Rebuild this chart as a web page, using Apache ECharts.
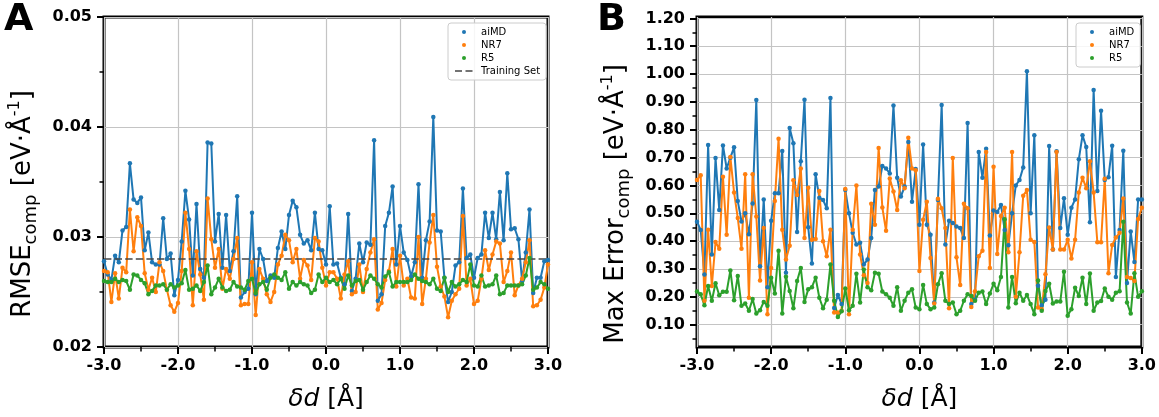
<!DOCTYPE html>
<html><head><meta charset="utf-8">
<script src="https://cdn.jsdelivr.net/npm/echarts@6/dist/echarts.min.js"></script>
<style>html,body{margin:0;padding:0;background:#fff}#c{width:1159px;height:417px}</style>
</head><body><div id="c"></div>
<script>
// x sampling grid (δd in Å), 121 points from -3.0 to 3.0
const deltaD = Array.from({length: 121}, (_, i) => +(-3 + 0.05 * i).toFixed(2));

// Panel A: RMSE_comp
const rmseAiMD = [0.0278,0.0266,0.0261,0.0283,0.0277,0.0306,0.0309,0.0367,0.0334,0.0331,0.0336,0.0288,0.0304,0.0277,0.0275,0.0275,0.0317,0.0280,0.0285,0.0247,
0.0261,0.0296,0.0342,0.0316,0.0265,0.0330,0.0271,0.0263,0.0386,0.0385,0.0296,0.0321,0.0272,0.0320,0.0269,0.0287,0.0337,0.0245,0.0250,0.0253,
0.0322,0.0248,0.0289,0.0280,0.0260,0.0265,0.0263,0.0290,0.0305,0.0289,0.0320,0.0333,0.0327,0.0302,0.0294,0.0297,0.0288,0.0322,0.0289,0.0288,
0.0275,0.0328,0.0275,0.0276,0.0263,0.0257,0.0321,0.0251,0.0262,0.0294,0.0277,0.0295,0.0293,0.0388,0.0242,0.0248,0.0310,0.0322,0.0346,0.0275,
0.0310,0.0286,0.0279,0.0264,0.0277,0.0348,0.0263,0.0297,0.0314,0.0409,0.0306,0.0305,0.0263,0.0241,0.0250,0.0274,0.0277,0.0344,0.0281,0.0284,
0.0263,0.0281,0.0284,0.0322,0.0299,0.0322,0.0298,0.0341,0.0297,0.0358,0.0307,0.0308,0.0298,0.0260,0.0286,0.0325,0.0249,0.0263,0.0263,0.0278,0.0279];
const rmseNR7 = [0.0269,0.0268,0.0241,0.0267,0.0244,0.0272,0.0268,0.0325,0.0287,0.0318,0.0310,0.0267,0.0252,0.0263,0.0250,0.0277,0.0269,0.0252,0.0238,0.0232,
0.0240,0.0269,0.0322,0.0289,0.0238,0.0287,0.0266,0.0243,0.0335,0.0298,0.0272,0.0289,0.0253,0.0271,0.0262,0.0280,0.0299,0.0238,0.0239,0.0239,
0.0277,0.0229,0.0271,0.0262,0.0248,0.0241,0.0250,0.0275,0.0283,0.0302,0.0297,0.0277,0.0289,0.0262,0.0279,0.0274,0.0261,0.0299,0.0296,0.0272,
0.0256,0.0268,0.0268,0.0262,0.0244,0.0266,0.0278,0.0248,0.0250,0.0275,0.0250,0.0271,0.0286,0.0298,0.0234,0.0240,0.0261,0.0269,0.0289,0.0255,
0.0283,0.0256,0.0262,0.0245,0.0244,0.0300,0.0239,0.0262,0.0295,0.0320,0.0273,0.0255,0.0246,0.0227,0.0242,0.0248,0.0253,0.0319,0.0256,0.0262,
0.0239,0.0242,0.0262,0.0288,0.0270,0.0284,0.0296,0.0294,0.0259,0.0269,0.0286,0.0247,0.0256,0.0262,0.0277,0.0297,0.0237,0.0238,0.0243,0.0254,0.0275];
const rmseR5 = [0.0260,0.0259,0.0259,0.0262,0.0259,0.0261,0.0260,0.0252,0.0266,0.0265,0.0261,0.0258,0.0248,0.0251,0.0256,0.0256,0.0257,0.0252,0.0257,0.0254,
0.0256,0.0258,0.0270,0.0252,0.0253,0.0256,0.0251,0.0259,0.0274,0.0248,0.0254,0.0262,0.0254,0.0251,0.0252,0.0259,0.0255,0.0254,0.0252,0.0260,
0.0262,0.0249,0.0257,0.0259,0.0252,0.0263,0.0266,0.0263,0.0261,0.0268,0.0253,0.0259,0.0256,0.0259,0.0257,0.0256,0.0249,0.0252,0.0266,0.0259,
0.0263,0.0259,0.0261,0.0257,0.0262,0.0253,0.0265,0.0256,0.0260,0.0261,0.0252,0.0259,0.0265,0.0262,0.0257,0.0254,0.0264,0.0268,0.0255,0.0259,
0.0259,0.0259,0.0259,0.0261,0.0266,0.0262,0.0260,0.0259,0.0257,0.0262,0.0253,0.0251,0.0263,0.0250,0.0259,0.0255,0.0257,0.0261,0.0259,0.0275,
0.0256,0.0255,0.0265,0.0255,0.0256,0.0257,0.0265,0.0248,0.0249,0.0256,0.0256,0.0256,0.0256,0.0257,0.0265,0.0281,0.0252,0.0254,0.0259,0.0257,0.0253];
const trainingSetRMSE = 0.028;

// Panel B: Max Error_comp
const maxAiMD = [0.47,0.44,0.28,0.745,0.352,0.699,0.512,0.744,0.661,0.70,0.737,0.544,0.471,0.50,0.425,0.535,0.907,0.31,0.55,0.235,
0.473,0.572,0.572,0.724,0.287,0.806,0.752,0.433,0.687,0.908,0.45,0.32,0.64,0.556,0.548,0.518,0.914,0.16,0.207,0.174,
0.584,0.50,0.43,0.388,0.394,0.316,0.334,0.411,0.584,0.596,0.67,0.661,0.643,0.887,0.628,0.56,0.596,0.756,0.542,0.659,
0.459,0.747,0.459,0.423,0.18,0.548,0.889,0.388,0.473,0.465,0.453,0.447,0.411,0.824,0.174,0.19,0.72,0.628,0.732,0.42,
0.51,0.505,0.53,0.44,0.385,0.50,0.60,0.62,0.665,1.01,0.50,0.78,0.24,0.17,0.19,0.742,0.37,0.723,0.447,0.554,
0.423,0.52,0.55,0.694,0.78,0.738,0.468,0.943,0.58,0.868,0.62,0.63,0.743,0.271,0.44,0.725,0.25,0.435,0.325,0.55,0.55];
const maxNR7 = [0.62,0.637,0.186,0.441,0.239,0.397,0.373,0.631,0.423,0.702,0.575,0.483,0.373,0.64,0.197,0.64,0.489,0.259,0.447,0.138,
0.304,0.544,0.768,0.441,0.334,0.384,0.619,0.566,0.661,0.411,0.592,0.405,0.408,0.58,0.40,0.346,0.441,0.144,0.144,0.15,
0.587,0.138,0.441,0.60,0.352,0.278,0.25,0.534,0.459,0.735,0.521,0.437,0.625,0.578,0.512,0.619,0.59,0.771,0.661,0.655,
0.293,0.477,0.542,0.34,0.176,0.552,0.518,0.447,0.159,0.699,0.342,0.243,0.534,0.518,0.164,0.22,0.346,0.366,0.72,0.304,
0.667,0.354,0.49,0.52,0.36,0.72,0.20,0.36,0.563,0.584,0.405,0.397,0.162,0.156,0.281,0.449,0.37,0.72,0.37,0.37,
0.405,0.338,0.405,0.575,0.628,0.59,0.687,0.575,0.396,0.396,0.624,0.285,0.386,0.413,0.43,0.553,0.271,0.268,0.257,0.48,0.52];
const maxR5 = [0.219,0.209,0.17,0.239,0.186,0.249,0.206,0.218,0.218,0.295,0.188,0.275,0.168,0.176,0.15,0.192,0.14,0.152,0.182,0.168,
0.269,0.212,0.366,0.14,0.272,0.221,0.159,0.257,0.304,0.182,0.227,0.235,0.269,0.197,0.159,0.19,0.316,0.186,0.128,0.148,
0.23,0.152,0.168,0.283,0.18,0.298,0.235,0.224,0.287,0.283,0.219,0.209,0.197,0.168,0.235,0.15,0.186,0.215,0.227,0.162,
0.156,0.243,0.174,0.156,0.162,0.245,0.285,0.186,0.174,0.18,0.138,0.15,0.186,0.209,0.203,0.186,0.215,0.219,0.174,0.212,
0.247,0.224,0.271,0.479,0.162,0.271,0.177,0.215,0.186,0.207,0.174,0.138,0.259,0.15,0.221,0.247,0.176,0.183,0.183,0.29,
0.132,0.156,0.233,0.203,0.269,0.174,0.284,0.15,0.18,0.185,0.23,0.20,0.19,0.215,0.22,0.47,0.18,0.14,0.285,0.20,0.22];

const yTicksB = [0.1,0.2,0.3,0.4,0.5,0.6,0.7,0.8,0.9,1.0,1.1,1.2];
const yMinorTicksB = [0.05,0.15,0.25,0.35,0.45,0.55,0.65,0.75,0.85,0.95,1.05,1.15];

const FONT = 'DejaVu Sans';
const C_BLUE = '#1f77b4', C_ORANGE = '#ff7f0e', C_GREEN = '#2ca02c';

function dataSeries(name, vals, color, g, yi) {
  return {
    name, type: 'line', xAxisIndex: g, yAxisIndex: yi,
    data: deltaD.map((x, i) => [x, vals[i]]),
    symbol: 'circle', symbolSize: 4.5, showAllSymbol: true,
    lineStyle: {width: 2, color}, itemStyle: {color},
    emphasis: {disabled: true}, silent: true, clip: true
  };
}

const tickLabel = {fontFamily: FONT, fontWeight: 'bold', fontSize: 16, color: '#000'};
const gridLine = {show: true, lineStyle: {color: '#c4c4c4', width: 1.2}};

function xAxis(g) {
  return {
    type: 'value', gridIndex: g, min: -3, max: 3, interval: 1,
    axisLine: {show: false, onZero: false},
    axisTick: {show: true, length: 7, lineStyle: {color: '#000', width: 2}},
    minorTick: {show: true, splitNumber: 2, length: 4.5, lineStyle: {color: '#000', width: 1.5}},
    axisLabel: Object.assign({margin: 11, formatter: v => v.toFixed(1)}, tickLabel),
    splitLine: gridLine,
    name: '{i|δd} {n|[Å]}', nameLocation: 'middle', nameGap: 40,
    nameTextStyle: {fontFamily: FONT, fontSize: 25, color: '#000',
      rich: {i: {fontFamily: FONT, fontSize: 25, fontStyle: 'italic', color: '#000'},
             n: {fontFamily: FONT, fontSize: 25, color: '#000'}}}
  };
}

const nameRich = {
  m: {fontFamily: FONT, fontSize: 26, color: '#000', verticalAlign: 'bottom', padding: [0,0,4,0]},
  s: {fontFamily: FONT, fontSize: 18, color: '#000', verticalAlign: 'bottom', padding: [0,0,0,0]},
  p: {fontFamily: FONT, fontSize: 16, color: '#000', verticalAlign: 'bottom', padding: [0,0,17,0]}
};

const legendCommon = {
  orient: 'vertical', itemWidth: 18, itemHeight: 5, itemGap: 3,
  padding: [4, 6, 4, 6], borderColor: '#cccccc', borderWidth: 1, borderRadius: 3,
  backgroundColor: 'rgba(255,255,255,0.85)',
  textStyle: {fontFamily: FONT, fontSize: 10, color: '#000', padding: [0,0,0,3]},
  lineStyle: {opacity: 0}, selectedMode: false
};

const option = {
  animation: false,
  backgroundColor: '#fff',
  grid: [
    {left: 104, right: 611, top: 17, bottom: 68, show: true, borderColor: '#000', borderWidth: 3, backgroundColor: 'transparent'},
    {left: 697, right: 17, top: 17, bottom: 68, show: true, borderColor: '#000', borderWidth: 3, backgroundColor: 'transparent'}
  ],
  xAxis: [xAxis(0), xAxis(1)],
  yAxis: [
    {type: 'value', gridIndex: 0, min: 0.02, max: 0.05, interval: 0.01,
     axisLine: {show: false, onZero: false},
     axisTick: {show: true, length: 7, lineStyle: {color: '#000', width: 2}},
     minorTick: {show: true, splitNumber: 2, length: 4.5, lineStyle: {color: '#000', width: 1.5}},
     axisLabel: Object.assign({margin: 12, formatter: v => v.toFixed(2)}, tickLabel),
     splitLine: gridLine,
     name: '{m|RMSE}{s|comp}{m| [eV·Å}{p|-1}{m|]}', nameLocation: 'middle', nameGap: 64, nameRotate: 90,
     nameTextStyle: {rich: nameRich, padding: [0, 44, 0, 0]}},
    {type: 'value', gridIndex: 1, min: 0.02, max: 1.205,
     axisLine: {show: false, onZero: false},
     axisTick: {show: true, length: 7, customValues: yTicksB, lineStyle: {color: '#000', width: 2}},
     axisLabel: Object.assign({margin: 12, customValues: yTicksB, formatter: v => v.toFixed(2)}, tickLabel),
     splitLine: gridLine,
     name: '{m|Max Error}{s|comp}{m| [eV·Å}{p|-1}{m|]}', nameLocation: 'middle', nameGap: 64, nameRotate: 90,
     nameTextStyle: {rich: nameRich, padding: [0, 44, 0, 0]}},
    {type: 'value', gridIndex: 1, min: 0.02, max: 1.205, position: 'left',
     axisLine: {show: false, onZero: false},
     axisTick: {show: true, length: 4.5, customValues: yMinorTicksB, lineStyle: {color: '#000', width: 1.5}},
     axisLabel: {show: false}, splitLine: {show: false}}
  ],
  legend: [
    Object.assign({left: 448, top: 23,
      data: [{name: 'aiMD'}, {name: 'NR7'}, {name: 'R5'},
             {name: 'Training Set', lineStyle: {opacity: 0.75, width: 2, type: [7, 3.5], color: '#444'}, itemStyle: {opacity: 0}}]}, legendCommon),
    Object.assign({left: 1076, top: 23,
      data: [{name: 'aiMD'}, {name: 'NR7'}, {name: 'R5'}]}, legendCommon)
  ],
  graphic: [
    {type: 'text', left: 4, top: 1, style: {text: 'A', fontFamily: FONT, fontWeight: 'bold', fontSize: 38, fill: '#000'}},
    {type: 'text', left: 597, top: 1, style: {text: 'B', fontFamily: FONT, fontWeight: 'bold', fontSize: 38, fill: '#000'}}
  ],
  series: [
    dataSeries('aiMD', rmseAiMD, C_BLUE, 0, 0),
    dataSeries('NR7', rmseNR7, C_ORANGE, 0, 0),
    dataSeries('R5', rmseR5, C_GREEN, 0, 0),
    {name: 'Training Set', type: 'line', xAxisIndex: 0, yAxisIndex: 0,
     data: [[-3, trainingSetRMSE], [3, trainingSetRMSE]], symbol: 'none',
     lineStyle: {color: '#444', opacity: 0.75, width: 2, type: [7.4, 3.2]}, itemStyle: {color: '#444'},
     emphasis: {disabled: true}, silent: true},
    dataSeries('aiMD', maxAiMD, C_BLUE, 1, 1),
    dataSeries('NR7', maxNR7, C_ORANGE, 1, 1),
    dataSeries('R5', maxR5, C_GREEN, 1, 1)
  ]
};
const chart = echarts.init(document.getElementById('c'));
chart.setOption(option);
</script>
</body></html>
